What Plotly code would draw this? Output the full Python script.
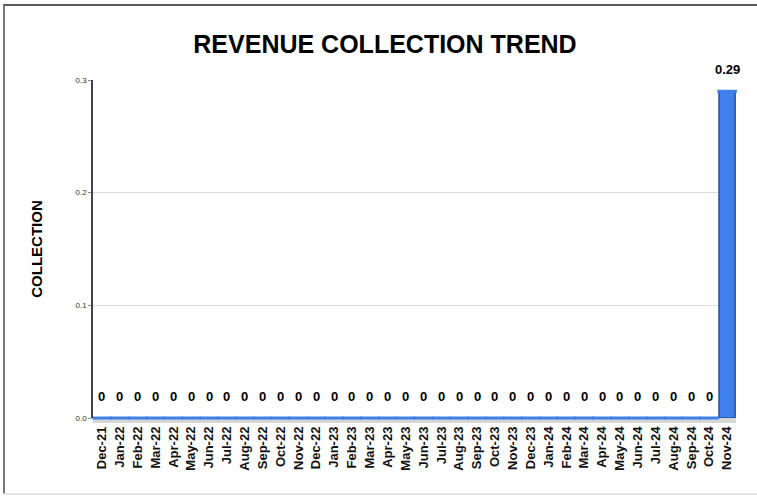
import plotly.graph_objects as go

months = ["Dec-21","Jan-22","Feb-22","Mar-22","Apr-22","May-22","Jun-22","Jul-22","Aug-22","Sep-22","Oct-22","Nov-22",
          "Dec-22","Jan-23","Feb-23","Mar-23","Apr-23","May-23","Jun-23","Jul-23","Aug-23","Sep-23","Oct-23","Nov-23",
          "Dec-23","Jan-24","Feb-24","Mar-24","Apr-24","May-24","Jun-24","Jul-24","Aug-24","Sep-24","Oct-24","Nov-24"]
collection = [0]*35 + [0.29]
labels = ["0" if v == 0 else f"{v:.2f}" for v in collection]

W, H = 757, 496
L, R, T, B = 93, 21, 80, 78
pw = W - L - R
ph = H - T - B

fig = go.Figure()
fig.add_trace(go.Bar(x=months, y=collection, width=0.9,
                     marker=dict(color="#3f80ea", line=dict(color="#1f4fa0", width=1.5)),
                     hoverinfo="x+y", showlegend=False))
# flat tops of zero bars
fig.add_trace(go.Scatter(x=months, y=collection, mode="markers", cliponaxis=False,
                         marker=dict(symbol="line-ew", size=14, line=dict(color="#3f80ea", width=3)),
                         hoverinfo="skip", showlegend=False))

for m, v, t in zip(months, collection, labels):
    fig.add_annotation(x=m, y=v, text=f"<b>{t}</b>", showarrow=False, yanchor="bottom",
                       yshift=12, font=dict(size=13, color="#000", family="Liberation Sans, Arial"))

shapes = [
    # floor band
    dict(type="rect", xref="paper", yref="paper", x0=0, x1=1, y0=-5/ph, y1=0,
         fillcolor="#d6d6d6", line=dict(width=0), layer="below"),
    # frame: top
    dict(type="line", xref="paper", yref="paper", x0=(3 - L)/pw, x1=(W - L)/pw,
         y0=(H - 5 - B)/ph, y1=(H - 5 - B)/ph, line=dict(color="#222", width=1.5)),
    # frame: left
    dict(type="line", xref="paper", yref="paper", x0=(4 - L)/pw, x1=(4 - L)/pw,
         y0=(H - 5 - B)/ph, y1=(H - 494 - B)/ph, line=dict(color="#777", width=2)),
    # frame: bottom
    dict(type="line", xref="paper", yref="paper", x0=(3 - L)/pw, x1=(W - L)/pw,
         y0=(H - 494 - B)/ph, y1=(H - 494 - B)/ph, line=dict(color="#ddd", width=1.5)),
]

fig.update_layout(
    width=W, height=H,
    margin=dict(l=L, r=R, t=T, b=B),
    paper_bgcolor="white", plot_bgcolor="white",
    title=dict(text="<b>REVENUE COLLECTION TREND</b>", x=385/W, xanchor="center", y=0.91, yanchor="middle",
               font=dict(size=25, color="#000", family="Liberation Sans, Arial")),
    shapes=shapes,
    bargap=0.1,
    font=dict(family="Liberation Sans, Arial"),
)
fig.update_xaxes(type="category", range=[-0.5, 35.5], tickangle=-90, showgrid=False,
                 tickfont=dict(size=13, color="#111", family="Liberation Sans, Arial"),
                 ticklabelstandoff=5,
                 tickprefix="<b>", ticksuffix="</b>", showline=False, ticks="")
fig.update_yaxes(range=[0, 0.3], dtick=0.1, tickformat=".1f", showgrid=True, gridcolor="#dcdcdc",
                 zeroline=False, showline=True, linecolor="#444", linewidth=1.5, ticks="outside",
                 ticklen=3, tickcolor="#888",
                 tickfont=dict(size=8, color="#333"),
                 title=dict(text="<b>COLLECTION</b>", font=dict(size=15, color="#000"), standoff=29))

fig.write_html("out.html", config={"displayModeBar": False},
               post_script="document.body.style.margin='0';document.body.style.overflow='hidden';")
